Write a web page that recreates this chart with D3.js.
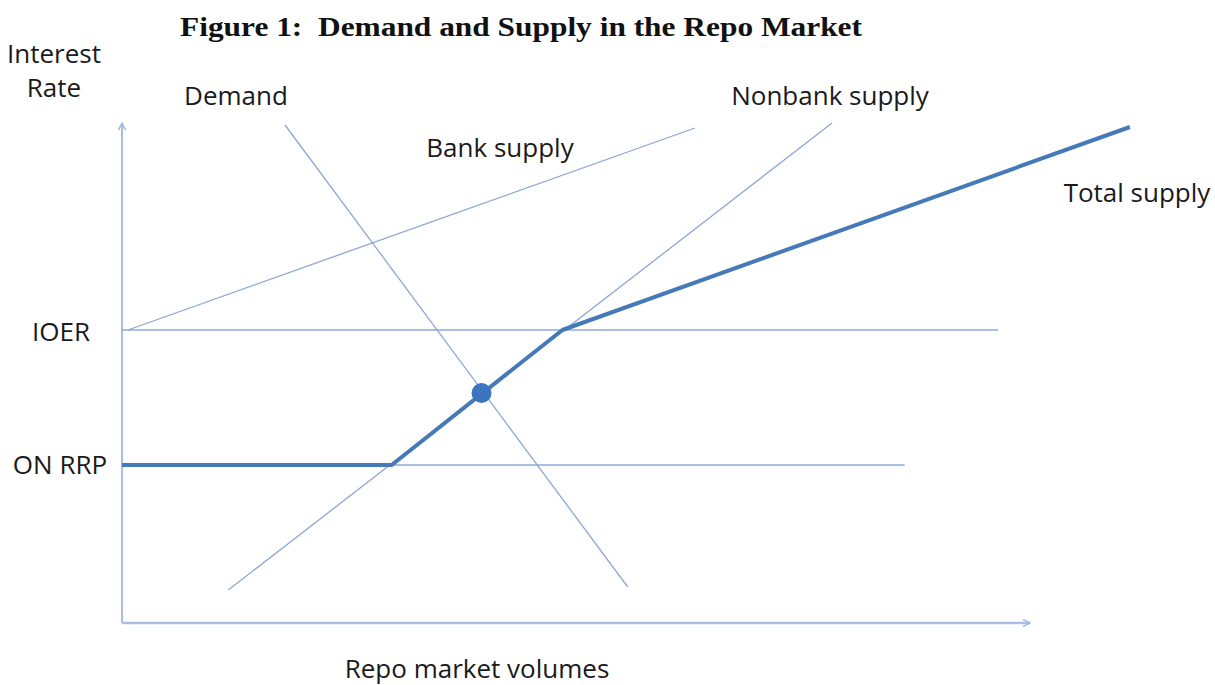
<!DOCTYPE html>
<html>
<head>
<meta charset="utf-8">
<script src="https://d3js.org/d3.v7.min.js"></script>
<style>
  body { margin: 0; background: #fff; }
  svg { display: block; }
  .lbl { font-family: "Open Sans", Lato, sans-serif; font-size: 26px; fill: #1a1a1a; }
</style>
</head>
<body>
<div id="chart"></div>
<script>
// levels (rate units, 0..100 scale)
const rateLevels = [
  { name: "IOER", y: 58.6, xEnd: 96.5 },
  { name: "ON RRP", y: 31.6, xEnd: 86.2 }
];

// thin curves, endpoints in (volume, rate) units
const bankSupply = [[0.66, 58.6], [63.1, 99]];
const demand = [[17.95, 99.6], [55.7, 7.2]];
const nonbankSupply = [[11.7, 6.6], [78.2, 100]];

// total supply kinks
const totalSupply = [[0, 31.6], [29.7, 31.6], [48.5, 58.6], [111, 99.2]];

const equilibrium = [39.6, 46];

const width = 1215, height = 685;

const x = d3.scaleLinear().domain([0, 100]).range([122, 1030]);
const y = d3.scaleLinear().domain([0, 100]).range([623, 123]);

const svg = d3.select("#chart").append("svg")
  .attr("width", width)
  .attr("height", height);

// arrow head
svg.append("defs").append("marker")
  .attr("id", "arrow")
  .attr("viewBox", "0 0 10 10")
  .attr("refX", 9).attr("refY", 5)
  .attr("markerWidth", 9).attr("markerHeight", 9)
  .attr("markerUnits", "userSpaceOnUse")
  .attr("orient", "auto")
  .append("path")
  .attr("d", "M1,1 L9,5 L1,9")
  .attr("fill", "none")
  .attr("stroke", "#9fb4dd")
  .attr("stroke-width", 1.5);

const line = d3.line().x(d => x(d[0])).y(d => y(d[1]));

// axes
svg.append("path")
  .attr("d", line([[0, 0], [0, 100]]))
  .attr("stroke", "#a9bce2").attr("stroke-width", 2)
  .attr("fill", "none")
  .attr("marker-end", "url(#arrow)");

svg.append("path")
  .attr("d", line([[0, 0], [100, 0]]))
  .attr("stroke", "#a9bce2").attr("stroke-width", 2.5)
  .attr("fill", "none")
  .attr("marker-end", "url(#arrow)");

// horizontal rate levels
svg.selectAll(".level")
  .data(rateLevels)
  .enter()
  .append("path")
  .attr("d", d => line([[0, d.y], [d.xEnd, d.y]]))
  .attr("stroke", "#8eaad8").attr("stroke-width", 1.3)
  .attr("fill", "none");

// thin supply / demand lines
[bankSupply, demand, nonbankSupply].forEach(seg => {
  svg.append("path")
    .attr("d", line(seg))
    .attr("stroke", "#8ea6d2").attr("stroke-width", 1.3)
    .attr("fill", "none");
});

// total supply (thick)
svg.append("path")
  .attr("d", line(totalSupply))
  .attr("stroke", "#4679b8").attr("stroke-width", 4)
  .attr("stroke-linejoin", "round")
  .attr("fill", "none");

svg.append("circle")
  .attr("cx", x(equilibrium[0]))
  .attr("cy", y(equilibrium[1]))
  .attr("r", 10)
  .attr("fill", "#3a75bd");

// title
svg.append("text")
  .attr("x", 521).attr("y", 36)
  .attr("text-anchor", "middle")
  .attr("font-family", "'Liberation Serif', 'Times New Roman', serif")
  .attr("font-weight", "bold")
  .attr("font-size", 28)
  .attr("fill", "#111")
  .attr("textLength", 682)
  .attr("lengthAdjust", "spacingAndGlyphs")
  .attr("xml:space", "preserve")
  .text("Figure 1:  Demand and Supply in the Repo Market");

// labels
const labels = [
  { t: "Interest", x: 54, y: 56 },
  { t: "Rate", x: 54, y: 90 },
  { t: "Demand", x: 236, y: 98 },
  { t: "Bank supply", x: 500, y: 150 },
  { t: "Nonbank supply", x: 830, y: 98 },
  { t: "Total supply", x: 1137, y: 195 },
  { t: "IOER", x: 61, y: 334 },
  { t: "ON RRP", x: 60, y: 467 },
  { t: "Repo market volumes", x: 477, y: 671 }
];

svg.selectAll(".lbl")
  .data(labels)
  .enter()
  .append("text")
  .attr("class", "lbl")
  .attr("x", d => d.x).attr("y", d => d.y)
  .attr("text-anchor", "middle")
  .attr("dominant-baseline", "middle")
  .text(d => d.t);
</script>
</body>
</html>
